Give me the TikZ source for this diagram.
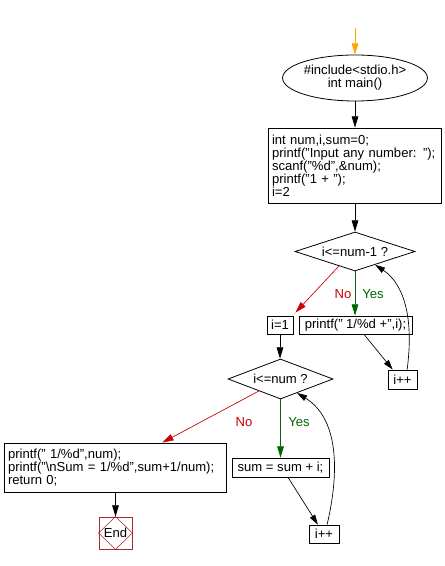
\documentclass[tikz,border=0pt]{standalone}
\usepackage{fontspec}
\setmainfont{Liberation Sans}
\usetikzlibrary{shapes.geometric,arrows.meta,calc}
\definecolor{nored}{RGB}{204,0,0}
\definecolor{yesgreen}{RGB}{0,102,0}
\definecolor{startorange}{RGB}{255,165,0}
\definecolor{endred}{RGB}{170,40,40}
\begin{document}
\begin{tikzpicture}[x=0.75pt,y=-0.75pt,
  font=\fontsize{9.8}{9.75}\selectfont,
  every node/.style={inner sep=0pt},
  boxnode/.style={draw, line width=0.6pt, rectangle, inner sep=0pt},
  codebox/.style={draw, line width=0.6pt, rectangle, inner xsep=3pt, inner ysep=0pt, align=left},
  decision/.style={draw, line width=0.6pt, diamond, inner sep=0pt},
  arr/.style={-{Triangle[length=8.5pt,width=5pt]}, line width=0.6pt},
  thinarr/.style={-{Triangle[length=7.5pt,width=4.5pt]}, line width=0.5pt}]
\useasboundingbox (0,0) rectangle (444,566);

% nodes
\coordinate (start) at (355,28);
\node[draw, line width=0.6pt, ellipse, minimum width=88.5pt, minimum height=34.5pt, align=center] (main) at (355,78) {\#include<stdio.h>\\int main()};
\node[codebox, text width=123.75pt, minimum height=56.25pt] (init) at (354.5,165.5)
  {int num,i,sum=0;\\printf("Input any number: ");\\scanf("\%d",\&num);\\printf("1 + ");\\i=2};
\node[decision, aspect=3.08, minimum width=90pt, minimum height=29.25pt] (d1) at (355,251.5) {i<=num-1 ?};
\node[boxnode, minimum width=84.75pt, minimum height=13.5pt] (pbox) at (355.5,325) {printf(" 1/\%d +",i);};
\node[boxnode, minimum width=19.5pt, minimum height=13.5pt] (i1) at (280,325) {i=1};
\node[boxnode, minimum width=21.75pt, minimum height=14.25pt] (ip1) at (402.5,379.5) {i++};
\node[decision, aspect=2.625, minimum width=78.75pt, minimum height=30pt] (d2) at (280.5,379) {i<=num ?};
\node[boxnode, minimum width=72.75pt, minimum height=14.25pt] (sbox) at (280.5,467.5) {sum = sum + i;};
\node[boxnode, minimum width=22.5pt, minimum height=13.5pt] (ip2) at (324,534) {i++};
\node[codebox, text width=160.5pt, minimum height=36.75pt] (fin) at (115,467.5)
  {printf(" 1/\%d",num);\\printf("\textbackslash nSum = 1/\%d",sum+1/num);\\return 0;};
\node[draw=endred, line width=0.6pt, rectangle, minimum width=24.75pt, minimum height=24pt] (endbox) at (115.5,533) {End};
\draw[endred, line width=0.4pt] (endbox.north) -- (endbox.east) -- (endbox.south) -- (endbox.west) -- cycle;

% labels
\node[text=nored] (no1) at (343,294) {No};
\node[text=yesgreen] (yes1) at (373,294) {Yes};
\node[text=nored] (no2) at (244,422) {No};
\node[text=yesgreen] (yes2) at (299,422) {Yes};

% connectors
\draw[arr, draw=startorange, fill=startorange] (start) -- (main.north);
\draw[arr] (main.south) -- (main.south |- init.north);
\draw[arr] (init.south -| d1.north) -- (d1.north);
\draw[arr, draw=yesgreen, fill=yesgreen] (d1.south) -- (pbox.north -| d1.south);
\draw[arr, draw=nored, fill=nored, line width=0.45pt] ($(d1.west)!0.733!(d1.south)$) -- ($(i1.north east)+(2,-3)$);
\draw[thinarr] ($(pbox.south west)!0.575!(pbox.south east)$) -- ($(ip1.north west)!0.17!(ip1.north east)$);
\draw[thinarr] ($(ip1.north west)!0.655!(ip1.north east)$) .. controls (414,318) and (404,284) .. ($(d1.east)!0.667!(d1.south)$);
\draw[arr] (i1.south) -- (i1.south |- d2.north);
\draw[arr, draw=yesgreen, fill=yesgreen] (d2.south) -- (d2.south |- sbox.north);
\draw[arr, draw=nored, fill=nored, line width=0.45pt] ($(d2.west)!0.59!(d2.south)$) -- ($(fin.north west)!0.712!(fin.north east)$);
\draw[thinarr] ($(sbox.south west)!0.577!(sbox.south east)$) -- ($(ip2.north west)!0.3!(ip2.north east)$);
\draw[thinarr] ($(ip2.north west)!0.6!(ip2.north east)$) .. controls (340,470) and (338,418) .. ($(d2.east)!0.686!(d2.south)$);
\draw[arr] (fin.south -| endbox.north) -- (endbox.north);
\end{tikzpicture}
\end{document}
